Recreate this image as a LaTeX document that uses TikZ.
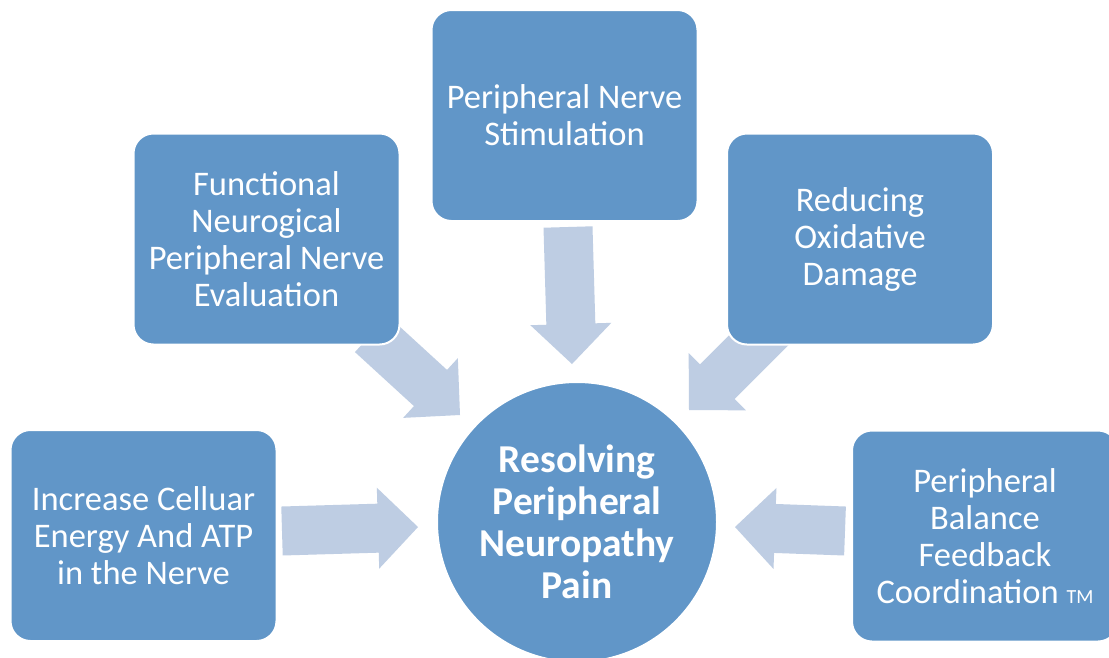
\documentclass[tikz,border=0pt]{standalone}
\usepackage{fontspec}
\setmainfont{Carlito}
\usetikzlibrary{calc}
\definecolor{boxblue}{RGB}{97,150,200}
\definecolor{arrowblue}{RGB}{190,205,227}
\tikzset{
  card/.style={draw=white, line width=2pt, fill=boxblue, rounded corners=20pt,
    minimum width=266pt, minimum height=211pt, inner sep=0pt, text=white,
    align=center, font=\fontsize{34.5}{37}\selectfont},
  hubnode/.style={circle, draw=white, line width=2pt, fill=boxblue,
    minimum size=280pt, inner sep=0pt, text=white, align=center,
    font=\bfseries\fontsize{39.5}{42}\selectfont},
  blockarrow/.style={fill=arrowblue}
}
% block arrow from coordinate #1 to coordinate #2
\newcommand\blockarr[2]{%
  \coordinate (#1-hb) at ($(#2)!40pt!(#1)$);
  \fill[blockarrow] ($(#1)!24.5pt!90:(#2)$) -- ($(#1-hb)!24.5pt!-90:(#1)$)
    -- ($(#1-hb)!40.5pt!-90:(#1)$) -- (#2) -- ($(#1-hb)!40.5pt!90:(#1)$)
    -- ($(#1-hb)!24.5pt!90:(#1)$) -- ($(#1)!24.5pt!-90:(#2)$) -- cycle;
}
\begin{document}
\begin{tikzpicture}[x=1pt,y=-1pt]
  \useasboundingbox (0,0) rectangle (1109,657);
  \fill[white] (0,0) rectangle (1109,657);

  % arrow end points
  \coordinate (aTs) at (568,227);   \coordinate (aTe) at (572,364);
  \coordinate (aULs) at (371.5,334); \coordinate (aULe) at (460,415);
  \coordinate (aURs) at (774,325);  \coordinate (aURe) at (689,410);
  \coordinate (aLLs) at (282,531);  \coordinate (aLLe) at (418,527);
  \coordinate (aLRs) at (845,531);  \coordinate (aLRe) at (735,527);

  \blockarr{aTs}{aTe}
  \blockarr{aULs}{aULe}
  \blockarr{aURs}{aURe}
  \blockarr{aLLs}{aLLe}
  \blockarr{aLRs}{aLRe}

  \node[card] (top) at (564.5,115.5) {Peripheral Nerve\\Stimulation};
  \node[card] (ul) at (266.5,239) {Functional\\Neurogical\\Peripheral Nerve\\Evaluation};
  \node[card] (ur) at (860,239) {Reducing\\Oxidative\\Damage};
  \node[card] (ll) at (143.5,535.5) {Increase Celluar\\Energy And ATP\\in the Nerve};
  \node[card] (lr) at (985,536) {Peripheral\\Balance\\Feedback\\Coordination {\fontsize{20}{22}\selectfont TM}};

  \node[hubnode] (hub) at (577,522) {Resolving\\Peripheral\\Neuropathy\\Pain};
\end{tikzpicture}
\end{document}
